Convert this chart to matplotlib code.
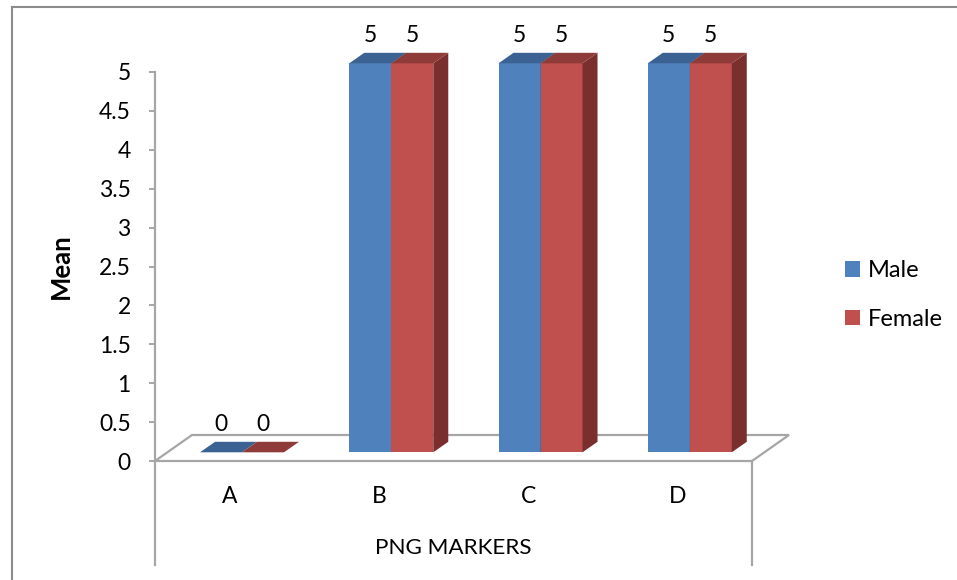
import matplotlib.pyplot as plt
import numpy as np
from matplotlib.patches import Polygon, Patch
from matplotlib.ticker import FuncFormatter

plt.rcParams['font.family'] = ['Lato', 'DejaVu Sans']

categories = ['A', 'B', 'C', 'D']
male = [0, 5, 5, 5]
female = [0, 5, 5, 5]
series = ['Male', 'Female']

front_col = ['#4F81BD', '#C0504D']
top_col = ['#3C6293', '#8E3B39']
side_col = ['#3A5F8E', '#7A2E2D']
grid_col = '#A6A6A6'

W, H = 957, 580
fig = plt.figure(figsize=(W / 100, H / 100), dpi=100)
# front plane of the 3D box in pixels: x 155..752, y 461 (0) .. 72 (5)
ax = fig.add_axes([155 / W, (H - 461) / H, 597 / W, 389 / H])
ax.set_xlim(-0.5, 3.5)
ax.set_ylim(0, 5)

# pixel -> data unit helpers
ux = 4 / 597
uy = 5 / 389

# floor
fdx, fdy = 37 * ux, 26 * uy
floor = Polygon([(-0.5, 0), (3.5, 0), (3.5 + fdx, fdy), (-0.5 + fdx, fdy)],
                closed=True, facecolor='white', edgecolor=grid_col, lw=1.6,
                zorder=1, clip_on=False)
ax.add_patch(floor)

# bars (3D look): front face offset, then depth
ox, oy = 12.4 * ux, 8.7 * uy
bdx, bdy = 15 * ux, 10.5 * uy
bw = 42 / 149.25
x = np.arange(len(categories))

for i, (x0c, vals) in enumerate([(x - bw, male), (x, female)]):
    for xc, v in zip(x0c, vals):
        x0, x1 = xc + ox, xc + bw + ox
        y0, y1 = oy, v + oy
        ax.add_patch(Polygon([(x0, y0), (x1, y0), (x1, y1), (x0, y1)],
                             facecolor=front_col[i], edgecolor='none', zorder=3, clip_on=False))
        ax.add_patch(Polygon([(x1, y0), (x1 + bdx, y0 + bdy), (x1 + bdx, y1 + bdy), (x1, y1)],
                             facecolor=side_col[i], edgecolor='none', zorder=3, clip_on=False))
        ax.add_patch(Polygon([(x0, y1), (x1, y1), (x1 + bdx, y1 + bdy), (x0 + bdx, y1 + bdy)],
                             facecolor=top_col[i], edgecolor='none', zorder=3, clip_on=False))
        ax.annotate('%g' % v, (xc + bw / 2, v), xytext=(12.4, 36.7),
                    textcoords='offset pixels', ha='center', va='center',
                    fontsize=16.5, color='black', annotation_clip=False)

# axes styling
for s in ['top', 'right', 'bottom']:
    ax.spines[s].set_visible(False)
ax.spines['left'].set_color(grid_col)
ax.spines['left'].set_linewidth(1.6)
ax.set_yticks(np.arange(0, 5.01, 0.5))
ax.yaxis.set_major_formatter(FuncFormatter(lambda v, p: '%g' % v))
ax.tick_params(axis='y', colors=grid_col, labelcolor='black', length=4.5,
               width=1.4, labelsize=16.5, pad=13)
ax.set_xticks(x)
ax.set_xticklabels(categories)
ax.tick_params(axis='x', length=0, labelsize=16.5, pad=18)

# category axis end lines below the floor
drop = 104 * uy
for xe in (-0.5, 3.5):
    ax.plot([xe, xe], [0, -drop], color=grid_col, lw=1.6, clip_on=False, zorder=1)

ax.set_ylabel('Mean', fontsize=18.5, fontweight='bold', labelpad=0)
ax.yaxis.set_label_coords(-(155 - 73) / 597, (461 - 266) / 389)
fig.text(453 / W, 1 - 548 / H, 'PNG MARKERS', ha='center', va='center', fontsize=16.2)

handles = [Patch(facecolor=front_col[0]), Patch(facecolor=front_col[1])]
fig.legend(handles, series, loc='center left', bbox_to_anchor=(845 / W, 1 - 295 / H),
           frameon=False, fontsize=17, handlelength=0.64, handleheight=0.64,
           handletextpad=0.34, labelspacing=1.18, borderpad=0, borderaxespad=0)

# outer chart border (left and top visible)
fig.add_artist(plt.Line2D([12 / W, 12 / W], [0, 1 - 7 / H], color='#8C8C8C', lw=1.5))
fig.add_artist(plt.Line2D([12 / W, 1], [1 - 7 / H, 1 - 7 / H], color='#8C8C8C', lw=1.5))

fig.savefig('out.png', dpi=100, facecolor='white')
